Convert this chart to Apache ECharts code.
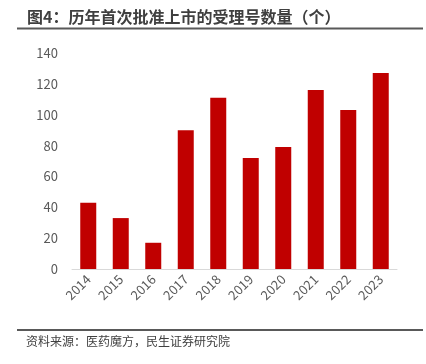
<!DOCTYPE html>
<html>
<head>
<meta charset="utf-8">
<script src="https://cdn.jsdelivr.net/npm/echarts@6/dist/echarts.min.js"></script>
<style>
  html, body { margin: 0; padding: 0; background: #fff; }
  #chart { width: 426px; height: 364px; }
</style>
</head>
<body>
<div id="chart"></div>
<script>
// 数据
const years = ['2014', '2015', '2016', '2017', '2018', '2019', '2020', '2021', '2022', '2023'];
const counts = [43, 33, 17, 90, 111, 72, 79, 116, 103, 127];
const yTicks = { min: 0, max: 140, interval: 20 };

const titleText = '图4：历年首次批准上市的受理号数量（个）';
const sourceText = '资料来源：医药魔方，民生证券研究院';

const font = '"Noto Sans CJK SC", "Microsoft YaHei", sans-serif';

const chart = echarts.init(document.getElementById('chart'));

chart.setOption({
  animation: false,
  textStyle: { fontFamily: font },
  grid: { left: 72, right: 29, top: 53, bottom: 95 },
  xAxis: {
    type: 'category',
    data: years,
    axisLine: { lineStyle: { color: '#d9d9d9', width: 1 } },
    axisTick: { show: false },
    axisLabel: {
      rotate: 45,
      color: '#595959',
      fontSize: 13,
      fontFamily: font,
      margin: 8
    }
  },
  yAxis: {
    type: 'value',
    min: yTicks.min,
    max: yTicks.max,
    interval: yTicks.interval,
    splitLine: { show: false },
    axisLine: { show: false },
    axisTick: { show: false },
    axisLabel: { color: '#595959', fontSize: 13, fontFamily: font, margin: 14 }
  },
  series: [{
    type: 'bar',
    data: counts,
    barWidth: 16,
    itemStyle: { color: '#c00000' }
  }],
  graphic: [
    {
      type: 'text', left: 27, top: 9,
      style: { text: titleText, fill: '#3f3f3f', font: 'bold 16px ' + font }
    },
    {
      type: 'line',
      shape: { x1: 17, y1: 28.5, x2: 423, y2: 28.5 },
      style: { stroke: '#595959', lineWidth: 2 }
    },
    {
      type: 'line',
      shape: { x1: 17, y1: 330, x2: 423, y2: 330 },
      style: { stroke: '#595959', lineWidth: 2 }
    },
    {
      type: 'text', left: 26, top: 335,
      style: { text: sourceText, fill: '#404040', font: '12px ' + font }
    }
  ]
});
</script>
</body>
</html>
